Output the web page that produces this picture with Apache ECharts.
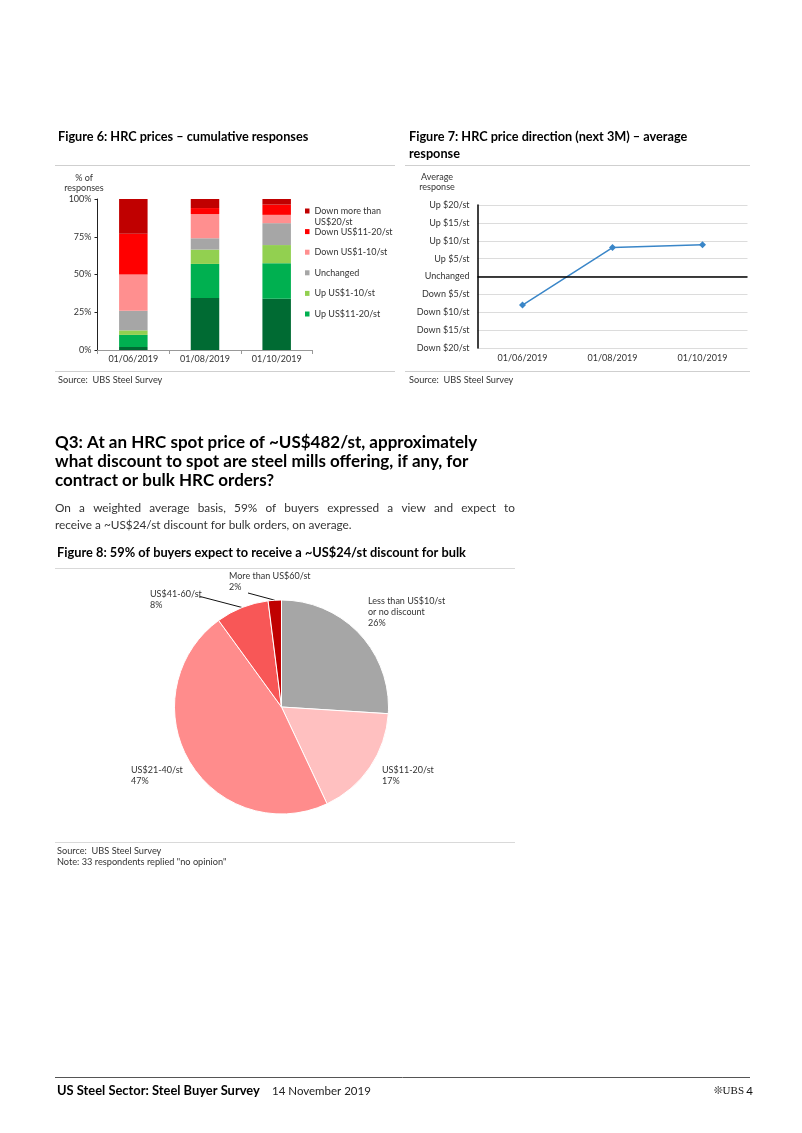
<!DOCTYPE html>
<html>
<head>
<meta charset="utf-8">
<script src="https://cdn.jsdelivr.net/npm/echarts@6/dist/echarts.min.js"></script>
<style>
html,body{margin:0;padding:0;background:#fff;}
#page{width:802px;height:1133px;}
</style>
</head>
<body>
<div id="page"></div>
<script>
// ---------- Figure 6 data (cumulative responses, % of responses) ----------
const fig6Dates = ['01/06/2019', '01/08/2019', '01/10/2019'];
const upMore20 = [2, 34.5, 34];
const up11to20 = [8, 22.5, 23.5];
const up1to10 = [3, 9.5, 12];
const unchangedResp = [13, 7.5, 14.5];
const down1to10 = [24, 16, 5.5];
const down11to20 = [27, 4, 6.8];
const downMore20 = [23, 6, 3.7];
const fig6Ticks = [0, 25, 50, 75, 100];

// ---------- Figure 7 data (average response, US$/st) ----------
const fig7Dates = ['01/06/2019', '01/08/2019', '01/10/2019'];
const avgResponse = [-8.0, 8.1, 8.9];
const fig7TickValues = [-20, -15, -10, -5, 0, 5, 10, 15, 20];
const fig7TickLabels = ['Down $20/st', 'Down $15/st', 'Down $10/st', 'Down $5/st', 'Unchanged', 'Up $5/st', 'Up $10/st', 'Up $15/st', 'Up $20/st'];

// ---------- Figure 8 data (discount expected, % of buyers) ----------
const discountNames = ['Less than US$10/st\nor no discount', 'US$11-20/st', 'US$21-40/st', 'US$41-60/st', 'More than US$60/st'];
const discountShares = [26, 17, 47, 8, 2];

const FONT = 'Lato, "Open Sans", sans-serif';
const chart = echarts.init(document.getElementById('page'), null, {renderer: 'canvas', width: 802, height: 1133});

const barColors = {
  upMore20: '#006b33', up11to20: '#00b050', up1to10: '#92d050', unchanged: '#a6a6a6',
  down1to10: '#ff8f8f', down11to20: '#ff0000', downMore20: '#c00000'
};
function barSeries(name, data, color) {
  return {
    type: 'bar', name: name, stack: 'resp', xAxisIndex: 0, yAxisIndex: 0,
    data: data, barWidth: 28.5, itemStyle: {color: color}, emphasis: {disabled: true}
  };
}

const pieColors = ['#a6a6a6', '#ffc0c0', '#ff8c8c', '#f85757', '#c00000'];
const pieLabelPos = [
  {x: 368, y: 596}, {x: 382, y: 765}, {x: 131, y: 765}, {x: 150, y: 589}, {x: 229, y: 571}
];
// where the leader line meets each small-slice label, relative to the label's top-left
const pieLeaderEnd = [null, null, null, [[52, 8], [49, 8]], [[19, 22]]];

function txt(x, y, text, size, opts) {
  opts = opts || {};
  return {
    type: 'text', silent: true,
    style: {
      x: x, y: y, text: text,
      font: (opts.bold ? 'bold ' : '') + size + 'px ' + (opts.family || FONT),
      fill: opts.color || '#000',
      textAlign: opts.align || 'left', textVerticalAlign: 'middle',
      lineHeight: opts.lineHeight || undefined
    }
  };
}
function hline(x1, x2, y, color, w) {
  return {type: 'line', silent: true, shape: {x1: x1, y1: y, x2: x2, y2: y}, style: {stroke: color, lineWidth: w || 1}};
}
// justified line of text: spread words between x0 and x1
const measureCtx = document.createElement('canvas').getContext('2d');
function justified(x0, x1, y, text, size, color) {
  const font = size + 'px ' + FONT;
  measureCtx.font = font;
  const words = text.split(' ');
  const widths = words.map(function (w) { return measureCtx.measureText(w).width; });
  const total = widths.reduce(function (a, b) { return a + b; }, 0);
  const gap = (x1 - x0 - total) / (words.length - 1);
  const out = [];
  let x = x0;
  words.forEach(function (w, i) {
    out.push({type: 'text', silent: true, style: {x: x, y: y, text: w, font: font, fill: color, textAlign: 'left', textVerticalAlign: 'middle'}});
    x += widths[i] + gap;
  });
  return out;
}

const option = {
  animation: false,
  textStyle: {fontFamily: FONT},
  grid: [
    {left: 97.5, top: 199, width: 215, height: 151, containLabel: false},
    {left: 477.5, top: 205, width: 270, height: 143, containLabel: false}
  ],
  xAxis: [
    {
      type: 'category', gridIndex: 0, data: fig6Dates,
      axisLine: {lineStyle: {color: '#999', width: 1}},
      axisTick: {show: true, length: 4, lineStyle: {color: '#999'}},
      axisLabel: {fontSize: 9, color: '#333', margin: 4.5}
    },
    {
      type: 'category', gridIndex: 1, data: fig7Dates,
      axisLine: {show: false}, axisTick: {show: false},
      axisLabel: {fontSize: 9, color: '#333', margin: 6}
    }
  ],
  yAxis: [
    {
      type: 'value', gridIndex: 0, min: 0, max: 100, interval: 25,
      axisLine: {show: true, lineStyle: {color: '#222', width: 1}},
      axisTick: {show: true, length: 3, lineStyle: {color: '#222'}},
      axisLabel: {fontSize: 9, color: '#333', margin: 6, formatter: function (v) { return fig6Ticks.indexOf(v) >= 0 ? v + '%' : ''; }},
      splitLine: {show: false}
    },
    {
      type: 'value', gridIndex: 1, min: -20, max: 20, interval: 5,
      axisLine: {show: true, lineStyle: {color: '#000', width: 1.5}},
      axisTick: {show: false},
      axisLabel: {fontSize: 9, color: '#333', margin: 8, formatter: function (v) { const i = fig7TickValues.indexOf(v); return i >= 0 ? fig7TickLabels[i] : ''; }},
      splitLine: {show: true, lineStyle: {color: '#dcdcdc', width: 1}}
    }
  ],
  legend: {
    orient: 'vertical', left: 305, top: 205.5, padding: 0,
    itemWidth: 4.5, itemHeight: 5, itemGap: 9.6, icon: 'rect',
    textStyle: {fontSize: 9, color: '#333', lineHeight: 11},
    selectedMode: false,
    // the first entry wraps onto a second line, drawn just below it
    formatter: function (name) { return name === 'Down more than US$20/st' ? 'Down more than' : name; },
    data: ['Down more than US$20/st', 'Down US$11-20/st', 'Down US$1-10/st', 'Unchanged', 'Up US$1-10/st', 'Up US$11-20/st']
  },
  series: [
    barSeries('Up more than US$20/st', upMore20, barColors.upMore20),
    barSeries('Up US$11-20/st', up11to20, barColors.up11to20),
    barSeries('Up US$1-10/st', up1to10, barColors.up1to10),
    barSeries('Unchanged', unchangedResp, barColors.unchanged),
    barSeries('Down US$1-10/st', down1to10, barColors.down1to10),
    barSeries('Down US$11-20/st', down11to20, barColors.down11to20),
    barSeries('Down more than US$20/st', downMore20, barColors.downMore20),
    {
      type: 'line', name: 'Average response', xAxisIndex: 1, yAxisIndex: 1,
      data: avgResponse, symbol: 'diamond', symbolSize: 7,
      lineStyle: {color: '#3a86c8', width: 1.5}, itemStyle: {color: '#3a86c8'},
      emphasis: {disabled: true},
      markLine: {
        silent: true, symbol: 'none', label: {show: false},
        lineStyle: {color: '#000', width: 1.5, type: 'solid'},
        data: [{yAxis: 0}]
      }
    },
    {
      type: 'pie', name: 'Discount', center: [281.5, 707], radius: 107,
      startAngle: 90, clockwise: true,
      data: discountNames.map(function (n, i) {
        return {name: n, value: discountShares[i], itemStyle: {color: pieColors[i]}, labelLine: {show: pieLeaderEnd[i] !== null}};
      }),
      itemStyle: {borderColor: '#fff', borderWidth: 1},
      emphasis: {disabled: true},
      label: {
        show: true, position: 'outside', fontSize: 9, color: '#333', lineHeight: 11,
        formatter: function (p) { return p.name + '\n' + p.value + '%'; }
      },
      labelLine: {length: 8, length2: 8, lineStyle: {color: '#111', width: 1}},
      labelLayout: function (params) {
        const pos = pieLabelPos[params.dataIndex];
        const res = {x: pos.x, y: pos.y, align: 'left', verticalAlign: 'top'};
        const ends = pieLeaderEnd[params.dataIndex];
        if (ends && params.labelLinePoints && params.labelLinePoints.length) {
          const pts = [params.labelLinePoints[0].slice()];
          ends.forEach(function (e) { pts.push([pos.x + e[0], pos.y + e[1]]); });
          res.labelLinePoints = pts;
        }
        return res;
      }
    }
  ],
  graphic: [
    // Figure 6 frame
    txt(58, 136.5, 'Figure 6: HRC prices – cumulative responses', 12.7, {bold: true}),
    hline(55, 395, 165.5, '#cfcfcf'),
    txt(84, 183, '% of\nresponses', 9, {align: 'center', color: '#333', lineHeight: 10}),
    txt(314.5, 222, 'US$20/st', 9, {color: '#333'}),
    hline(55, 395, 371.5, '#cfcfcf'),
    txt(58, 380.5, 'Source:  UBS Steel Survey', 9.2, {color: '#333'}),
    // Figure 7 frame
    txt(409, 136.5, 'Figure 7: HRC price direction (next 3M) – average', 12.7, {bold: true}),
    txt(409, 153.5, 'response', 12.7, {bold: true}),
    hline(405, 750, 165.5, '#cfcfcf'),
    txt(437, 182, 'Average\nresponse', 9, {align: 'center', color: '#333', lineHeight: 10}),
    hline(405, 750, 371.5, '#cfcfcf'),
    txt(409, 380.5, 'Source:  UBS Steel Survey', 9.2, {color: '#333'}),
    // Q3 heading + paragraph
    txt(55, 443, 'Q3: At an HRC spot price of ~US$482/st, approximately', 17, {bold: true}),
    txt(55, 462, 'what discount to spot are steel mills offering, if any, for', 17, {bold: true}),
    txt(55, 481, 'contract or bulk HRC orders?', 17, {bold: true})
  ].concat(
    justified(55, 515, 508, 'On a weighted average basis, 59% of buyers expressed a view and expect to', 11.8, '#333'),
    [
      txt(55, 525, 'receive a ~US$24/st discount for bulk orders, on average.', 11.8, {color: '#333'}),
      // Figure 8 frame
      txt(57, 553, 'Figure 8: 59% of buyers expect to receive a ~US$24/st discount for bulk', 12.8, {bold: true}),
      hline(55, 515, 568.5, '#d9d9d9'),
      hline(55, 515, 842.5, '#d9d9d9'),
      txt(57, 851, 'Source:  UBS Steel Survey', 9.2, {color: '#333'}),
      txt(57, 862, 'Note: 33 respondents replied "no opinion"', 9.2, {color: '#333'}),
      // Footer
      hline(55, 750, 1077.5, '#555'),
      txt(57, 1091, 'US Steel Sector: Steel Buyer Survey', 12.9, {bold: true}),
      txt(272, 1091, '14 November 2019', 11.5, {color: '#222'}),
      txt(723, 1091, '❊', 11, {align: 'right', color: '#333', family: '"DejaVu Sans"'}),
      txt(744, 1091, 'UBS', 11, {align: 'right', color: '#111', family: '"Liberation Serif"'}),
      txt(753, 1091, '4', 11.5, {align: 'right', color: '#111'})
    ]
  )
};
chart.setOption(option);
</script>
</body>
</html>
